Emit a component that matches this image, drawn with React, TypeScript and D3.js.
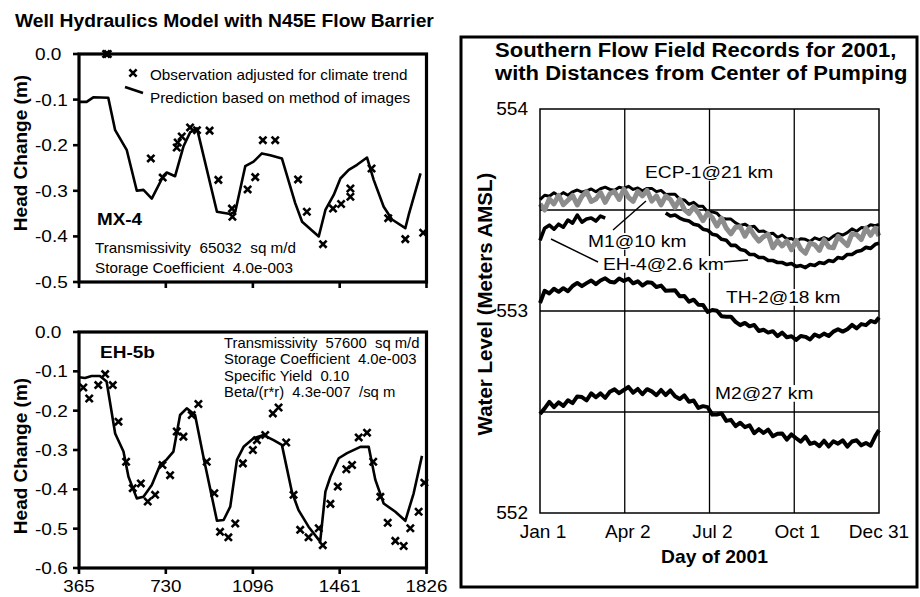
import React, { useLayoutEffect, useRef, useState } from "react";
import * as d3 from "d3";

// ---------- Left panels (Well Hydraulics Model) ----------
const dayTicks = [365, 730, 1096, 1461, 1826];
const topYTicks = [0, -0.1, -0.2, -0.3, -0.4, -0.5];
const botYTicks = [0, -0.1, -0.2, -0.3, -0.4, -0.5, -0.6];

// MX-4 prediction (method of images)
const mx4PredDays = [365,397,425,488,517,566,608,636,671,720,734,769,804,832,861,945,1001,1022,1064,1099,1134,1169,1218,1274,1303,1373,1401,1436,1464,1499,1534,1576,1604,1646,1681,1737,1751,1801];
const mx4PredVals = [-0.105,-0.105,-0.095,-0.096,-0.167,-0.211,-0.300,-0.298,-0.317,-0.267,-0.260,-0.268,-0.203,-0.172,-0.163,-0.346,-0.351,-0.346,-0.246,-0.236,-0.218,-0.222,-0.229,-0.327,-0.368,-0.400,-0.342,-0.309,-0.273,-0.254,-0.243,-0.227,-0.276,-0.335,-0.363,-0.382,-0.353,-0.262];
// MX-4 observations
const mx4ObsDays = [479,486,667,717,776,780,797,832,861,914,951,1008,1010,1074,1106,1138,1190,1286,1323,1391,1433,1467,1506,1506,1595,1665,1737,1812];
const mx4ObsVals = [0,0,-0.229,-0.271,-0.205,-0.194,-0.181,-0.161,-0.167,-0.168,-0.276,-0.339,-0.357,-0.297,-0.270,-0.189,-0.189,-0.275,-0.346,-0.417,-0.339,-0.329,-0.313,-0.295,-0.251,-0.360,-0.406,-0.392];

// EH-5b prediction
const eh5PredDays = [365,390,418,453,481,517,552,573,608,636,671,706,734,762,790,818,853,888,945,973,1001,1029,1057,1099,1141,1183,1218,1260,1288,1330,1379,1401,1422,1457,1492,1548,1583,1611,1646,1695,1737,1772,1807];
const eh5PredVals = [-0.115,-0.117,-0.112,-0.112,-0.126,-0.258,-0.304,-0.368,-0.423,-0.419,-0.389,-0.338,-0.324,-0.304,-0.211,-0.194,-0.211,-0.317,-0.480,-0.478,-0.444,-0.325,-0.292,-0.270,-0.262,-0.275,-0.287,-0.406,-0.453,-0.495,-0.533,-0.406,-0.368,-0.321,-0.308,-0.292,-0.292,-0.376,-0.436,-0.457,-0.480,-0.410,-0.315];
// EH-5b observations
const eh5ObsDays = [383,408,446,475,507,531,563,591,625,654,685,716,748,776,804,839,867,902,934,958,993,1022,1054,1096,1113,1148,1180,1204,1236,1267,1295,1330,1373,1390,1422,1453,1489,1513,1541,1576,1602,1632,1663,1695,1730,1758,1793,1817];
const eh5ObsVals = [-0.141,-0.169,-0.135,-0.107,-0.135,-0.228,-0.330,-0.397,-0.385,-0.431,-0.414,-0.338,-0.364,-0.253,-0.266,-0.211,-0.183,-0.330,-0.410,-0.508,-0.522,-0.487,-0.334,-0.300,-0.275,-0.262,-0.207,-0.192,-0.281,-0.414,-0.503,-0.522,-0.499,-0.542,-0.437,-0.393,-0.349,-0.338,-0.268,-0.256,-0.330,-0.419,-0.485,-0.531,-0.544,-0.499,-0.457,-0.383];

// ---------- Right panel (Southern Flow Field Records 2001) ----------
const recDays = [...d3.range(0, 361, 5), 364];
const monthTickDays = [0, 91, 182, 273, 364];
const monthTickLabels = ["Jan 1", "Apr 2", "Jul 2", "Oct 1", "Dec 31"];
const levelTicks = [552, 553, 554];
const levelGrid = [552.5, 553, 553.5];

const m1Vals = [553.551,553.573,553.568,553.585,553.57,553.586,553.573,553.59,553.599,553.588,
553.595,553.604,553.59,553.605,553.613,553.602,553.598,553.613,553.607,553.617,
553.602,553.609,553.595,553.607,553.607,553.591,553.597,553.577,553.578,553.578,
553.553,553.55,553.528,553.538,553.519,553.518,553.49,553.491,553.484,553.459,
553.455,553.455,553.436,553.423,553.43,553.416,553.419,553.394,553.396,553.382,
553.385,553.364,553.376,553.357,553.359,553.345,553.358,553.355,553.344,553.362,
553.353,553.363,553.353,553.371,553.383,553.376,553.388,553.407,553.395,553.413,
553.411,553.427,553.422,553.429];

const ecp1Vals = [553.53,553.50,553.555,553.53,553.573,553.526,553.548,553.572,553.525,553.568,
553.59,553.542,553.554,553.586,553.538,553.58,553.591,553.552,553.603,553.563,
553.543,553.592,553.57,553.597,553.544,553.57,553.525,553.569,553.552,553.513,
553.553,553.502,553.482,553.515,553.486,553.447,553.485,553.462,553.42,553.46,
553.41,553.382,553.415,553.417,553.37,553.412,553.374,553.346,553.368,553.38,
553.313,553.347,553.322,553.347,553.303,553.35,553.307,553.286,553.336,553.328,
553.30,553.353,553.317,553.313,553.37,553.347,553.324,553.382,553.378,553.354,
553.41,553.375,553.41,553.372];

const eh4Vals = [553.35,553.41,553.425,553.405,553.43,553.415,553.45,553.435,553.475,553.44,
553.455,553.46,553.445,553.47,553.46,
null,null,null,null,null,null,null,null,null,null,null,null,
553.485,553.47,553.475,553.46,553.45,553.445,553.43,553.425,553.405,553.40,
553.38,553.375,553.355,553.35,553.325,553.325,553.305,553.30,553.28,553.28,
553.265,553.265,553.25,553.25,553.24,553.24,553.23,553.235,553.22,553.225,
553.215,553.23,553.225,553.24,553.235,553.25,553.245,553.265,553.26,553.28,
553.28,553.295,553.30,553.315,553.31,553.33,
553.335];

const th2Vals = [553.04,553.10,553.087,553.11,553.095,553.113,553.098,553.124,553.139,553.123,
553.138,553.151,553.133,553.151,553.162,553.145,553.141,553.161,553.149,553.16,
553.137,553.147,553.126,553.142,553.14,553.119,553.126,553.10,553.102,553.103,
553.073,553.074,553.046,553.056,553.031,553.03,552.995,553.005,553.001,552.974,
552.972,552.972,552.946,552.93,552.941,552.924,552.931,552.901,552.907,552.893,
552.90,552.876,552.893,552.87,552.875,552.857,552.876,552.872,552.859,552.884,
552.873,552.888,552.876,552.898,552.91,552.898,552.91,552.931,552.914,552.935,
552.93,552.951,552.944,552.968];

const m2Vals = [552.49,552.518,552.55,552.524,552.548,552.53,552.558,552.544,552.577,552.574,
552.558,552.592,552.573,552.592,552.57,552.60,552.612,552.593,552.609,552.624,
552.596,552.614,552.588,552.613,552.602,552.583,552.609,552.584,552.607,552.578,
552.564,552.582,552.551,552.557,552.52,552.529,552.524,552.487,552.488,552.493,
552.456,552.461,552.43,552.447,552.425,552.434,552.395,552.415,552.396,552.413,
552.38,552.392,552.394,552.363,552.389,552.37,552.353,552.378,552.342,552.349,
552.331,552.358,552.329,552.355,552.343,552.36,552.329,552.354,552.36,552.335,
552.347,552.333,552.381,552.41];

const FONT = "'Liberation Sans', Arial, Helvetica, sans-serif";

function T({ x, y, size, bold = false, sx = 1, anchor = "start", rot = 0, children }: any) {
  return (
    <text
      transform={`translate(${x},${y})${rot ? ` rotate(${rot})` : ""} scale(${sx},1)`}
      fontSize={size}
      fontWeight={bold ? "bold" : "normal"}
      textAnchor={anchor}
      fontFamily={FONT}
      fill="#000"
      style={{ whiteSpace: "pre" }}
    >
      {children}
    </text>
  );
}

function BoxLabel({ x, y, size, sx, text }: any) {
  const ref = useRef<SVGTextElement>(null);
  const [w, setW] = useState(0);
  useLayoutEffect(() => {
    if (ref.current) setW(ref.current.getComputedTextLength());
  }, [text]);
  return (
    <g transform={`translate(${x},${y}) scale(${sx},1)`}>
      <rect x={-2} y={-size * 0.82} width={w + 4} height={size * 0.98} fill="#fff" />
      <text ref={ref} fontSize={size} fontFamily={FONT} fill="#000">{text}</text>
    </g>
  );
}

const cross = "M-3.6,-3.6L3.6,3.6M-3.6,3.6L3.6,-3.6";

function HeadPanel({ x, y, yTicks, predDays, predVals, obsDays, obsVals, xLabels }: any) {
  const [x0, x1] = x.range();
  const [y0, y1] = y.range();
  const line = d3.line<number>().x((d: number) => x(d)).y((_d: number, i: number) => y(predVals[i]));
  return (
    <g>
      <path d={line(predDays) || ""} fill="none" stroke="#000" strokeWidth={2.6} strokeLinejoin="round" />
      {obsDays.map((d: number, i: number) => (
        <path key={i} transform={`translate(${x(d)},${y(obsVals[i])})`} d={cross} stroke="#000" strokeWidth={2.6} />
      ))}
      <rect x={x0} y={y0} width={x1 - x0} height={y1 - y0} fill="none" stroke="#000" strokeWidth={3.2} />
      {yTicks.map((t: number) => (
        <g key={t}>
          <line x1={x0 - 6} x2={x0} y1={y(t)} y2={y(t)} stroke="#000" strokeWidth={2.6} />
          <T x={35} y={y(t) + 6} size={17} sx={1.12}>{t.toFixed(1).replace("-0.0", "0.0")}</T>
        </g>
      ))}
      {dayTicks.map((t) => (
        <g key={t}>
          <line x1={x(t)} x2={x(t)} y1={y1} y2={y1 + 6} stroke="#000" strokeWidth={2.6} />
          {xLabels && <T x={x(t)} y={592} size={16.5} sx={1.14} anchor="middle">{String(t)}</T>}
        </g>
      ))}
    </g>
  );
}

export default function App() {
  const xL = d3.scaleLinear().domain([365, 1826]).range([79, 426.5]);
  const yT = d3.scaleLinear().domain([0, -0.5]).range([54, 282]);
  const yB = d3.scaleLinear().domain([0, -0.6]).range([332, 568]);
  const xR = d3.scaleLinear().domain([0, 364]).range([540, 879]);
  const yR = d3.scaleLinear().domain([552, 554]).range([513, 109]);

  const recLine = (vals: (number | null)[]) =>
    d3
      .line<number>()
      .defined((_d: number, i: number) => vals[i] != null)
      .x((d: number) => xR(d))
      .y((_d: number, i: number) => yR(vals[i] as number))(recDays) || "";

  return (
    <svg width={920} height={597} style={{ position: "absolute", left: 0, top: 0, display: "block", background: "#fff" }}>
      <rect width={920} height={597} fill="#fff" />
      {/* Left title */}
      <T x={15} y={27} size={18} bold sx={1.07}>Well Hydraulics Model with N45E Flow Barrier</T>

      {/* MX-4 panel */}
      <HeadPanel x={xL} y={yT} yTicks={topYTicks} predDays={mx4PredDays} predVals={mx4PredVals} obsDays={mx4ObsDays} obsVals={mx4ObsVals} xLabels={false} />
      <T x={26.5} y={153} size={19} bold rot={-90} anchor="middle">Head Change (m)</T>
      <path transform="translate(133,73)" d={cross} stroke="#000" strokeWidth={2.6} />
      <line x1={125} y1={87} x2={143} y2={93} stroke="#000" strokeWidth={2.6} />
      <T x={150} y={80} size={14} sx={1.09}>Observation adjusted for climate trend</T>
      <T x={150} y={103} size={14} sx={1.09}>Prediction based on method of images</T>
      <T x={97} y={225} size={17} bold sx={1.11}>MX-4</T>
      <T x={95} y={253} size={14} sx={1.09}>{"Transmissivity  65032  sq m/d"}</T>
      <T x={95} y={273} size={14} sx={1.09}>{"Storage Coefficient  4.0e-003"}</T>

      {/* EH-5b panel */}
      <HeadPanel x={xL} y={yB} yTicks={botYTicks} predDays={eh5PredDays} predVals={eh5PredVals} obsDays={eh5ObsDays} obsVals={eh5ObsVals} xLabels={true} />
      <T x={26.5} y={456} size={19} bold rot={-90} anchor="middle">Head Change (m)</T>
      <T x={100} y={358} size={17} bold sx={1.12}>EH-5b</T>
      <T x={224} y={348} size={14} sx={1.06}>{"Transmissivity  57600  sq m/d"}</T>
      <T x={224} y={364} size={14} sx={1.06}>{"Storage Coefficient  4.0e-003"}</T>
      <T x={224} y={381} size={14} sx={1.06}>{"Specific Yield  0.10"}</T>
      <T x={224} y={397} size={14} sx={1.06}>{"Beta/(r*r)  4.3e-007  /sq m"}</T>

      {/* Right panel */}
      <rect x={461} y={37} width={456} height={550} fill="none" stroke="#000" strokeWidth={3} />
      <T x={495} y={57} size={19.5} bold sx={1.13}>Southern Flow Field Records for 2001,</T>
      <T x={495} y={80} size={19.5} bold sx={1.13}>with Distances from Center of Pumping</T>

      {/* grid */}
      {monthTickDays.slice(1, 4).map((d) => (
        <line key={d} x1={xR(d)} x2={xR(d)} y1={yR(554)} y2={yR(552)} stroke="#000" strokeWidth={1.3} />
      ))}
      {levelGrid.map((v) => (
        <line key={v} x1={xR(0)} x2={xR(364)} y1={yR(v)} y2={yR(v)} stroke="#000" strokeWidth={1.3} />
      ))}

      {/* records */}
      <path d={recLine(m1Vals)} fill="none" stroke="#000" strokeWidth={3} strokeLinejoin="round" />
      <path d={recLine(ecp1Vals)} fill="none" stroke="#8c8c8c" strokeWidth={5} strokeLinejoin="round" />
      <path d={recLine(eh4Vals)} fill="none" stroke="#000" strokeWidth={3.6} strokeLinejoin="round" />
      <path d={recLine(th2Vals)} fill="none" stroke="#000" strokeWidth={4} strokeLinejoin="round" />
      <path d={recLine(m2Vals)} fill="none" stroke="#000" strokeWidth={4} strokeLinejoin="round" />

      {/* labels */}
      <BoxLabel x={645} y={178} size={17} sx={1.13} text="ECP-1@21 km" />
      <BoxLabel x={588} y={247} size={17} sx={1.13} text="M1@10 km" />
      <BoxLabel x={603} y={270} size={17} sx={1.13} text="EH-4@2.6 km" />
      <BoxLabel x={726} y={303} size={17} sx={1.13} text="TH-2@18 km" />
      <BoxLabel x={715} y={399} size={17} sx={1.13} text="M2@27 km" />
      <line x1={613} y1={230} x2={646} y2={201} stroke="#000" strokeWidth={1.4} />
      <line x1={598} y1={262} x2={551} y2={239} stroke="#000" strokeWidth={1.4} />
      <line x1={724} y1={262} x2={748} y2={260} stroke="#000" strokeWidth={1.4} />

      {/* plot frame */}
      <rect x={xR(0)} y={yR(554)} width={xR(364) - xR(0)} height={yR(552) - yR(554)} fill="none" stroke="#000" strokeWidth={1.5} />
      {levelTicks.map((v) => (
        <T key={v} x={528} y={yR(v) + 6} size={17.5} sx={1.09} anchor="end">{String(v)}</T>
      ))}
      {monthTickDays.map((d, i) => (
        <T key={d} x={xR(d) + (i === 4 ? 0 : 3)} y={538} size={17.5} sx={1.09} anchor="middle">{monthTickLabels[i]}</T>
      ))}
      <T x={714.5} y={563} size={17.5} bold sx={1.1} anchor="middle">Day of 2001</T>
      <T x={492} y={304} size={20.5} bold rot={-90} anchor="middle">Water Level (Meters AMSL)</T>
    </svg>
  );
}
